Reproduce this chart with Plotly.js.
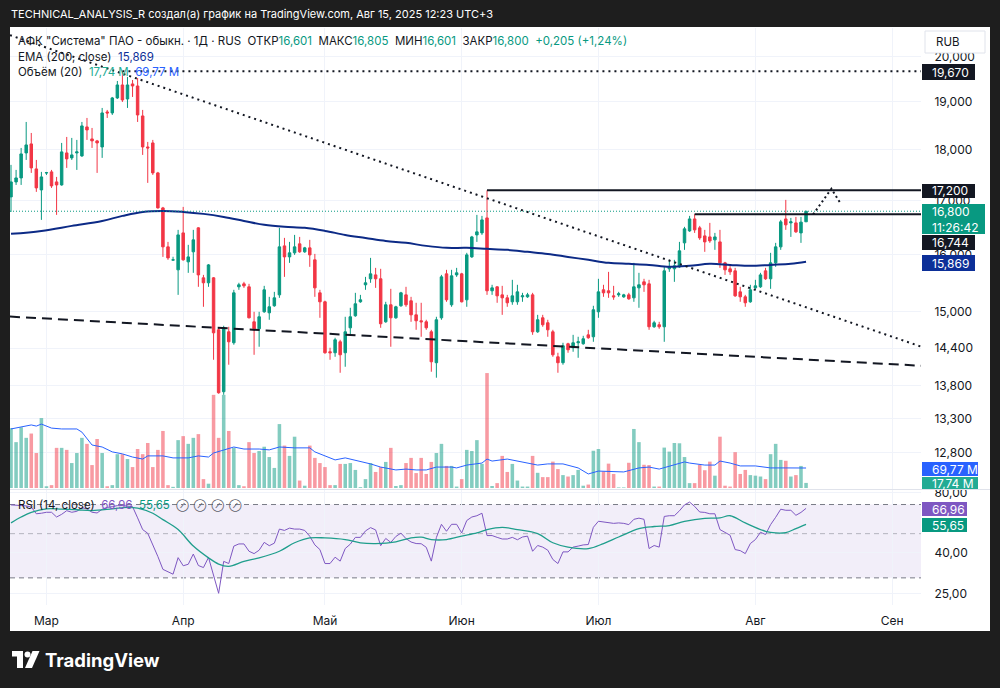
<!DOCTYPE html>
<html><head><meta charset="utf-8">
<script src="https://cdn.plot.ly/plotly-3.0.1.min.js"></script>
<style>html,body{margin:0;padding:0;background:#1e1e1e;}#chart{width:1000px;height:688px;}</style>
</head><body><div id="chart"></div>
<script>
// ---------- DATA (prices in RUB, volume in millions) ----------
const openP = [17.073,17.364,17.442,17.940,18.123,17.620,17.208,17.540,17.561,17.364,
17.305,17.940,17.840,17.940,17.880,18.473,18.225,18.185,18.061,18.787,
18.766,19.086,19.367,19.064,19.389,19.345,18.703,18.061,18.143,17.541,
16.863,16.139,15.900,15.727,16.395,15.869,16.049,16.488,15.586,15.499,
15.586,14.700,13.710,14.667,14.487,15.429,15.481,15.429,14.833,14.717,
15.001,14.984,15.103,15.290,16.157,15.958,16.031,16.194,16.049,16.121,
15.905,15.325,15.171,14.341,14.325,14.503,14.325,14.733,14.934,15.171,
15.464,15.569,15.638,15.569,14.833,15.120,14.900,15.103,15.290,15.188,
14.950,14.850,14.833,14.667,14.165,14.900,15.656,15.120,15.638,15.656,
15.205,15.958,16.358,16.395,16.674,15.360,15.429,15.290,15.239,15.171,
15.171,15.256,15.256,15.290,14.667,14.900,14.817,14.667,14.260,14.165,
14.471,14.406,14.487,14.471,14.617,14.585,15.001,15.377,15.360,15.273,
15.290,15.256,15.290,15.239,15.411,15.516,15.481,14.750,14.784,14.750,
15.745,15.745,15.780,16.212,16.432,16.655,16.488,16.340,16.321,16.267,
16.230,15.851,15.745,15.709,15.342,15.256,15.171,15.411,15.429,15.709,
15.569,15.851,16.139,16.655,16.581,16.581,16.395,16.601];
const highP = [17.700,17.600,18.041,18.577,18.348,17.799,17.561,17.560,17.600,17.462,
18.143,18.266,18.246,18.205,18.577,18.661,18.452,18.205,18.872,18.830,
19.107,19.454,19.670,19.542,19.476,19.520,18.830,18.164,18.205,17.561,
16.882,16.230,15.960,16.451,16.882,16.176,16.451,16.500,15.638,15.830,
15.600,14.733,14.767,14.750,15.377,15.499,15.516,15.481,15.001,15.001,
15.446,15.256,15.342,16.488,16.303,16.230,16.358,16.321,16.139,16.267,
16.012,15.377,15.190,14.406,14.569,14.536,14.917,15.069,15.325,15.290,
15.603,15.940,15.762,15.745,15.171,15.394,15.103,15.342,15.429,15.256,
15.154,15.154,14.867,14.700,14.917,15.638,15.727,15.727,15.762,15.674,
16.031,16.340,16.731,16.712,17.200,15.464,15.440,15.446,15.290,15.551,
15.464,15.325,15.325,15.325,14.950,14.950,14.867,14.700,14.325,14.487,
14.487,14.617,14.585,14.601,14.700,15.103,15.569,15.464,15.691,15.446,
15.342,15.308,15.325,15.851,15.674,15.569,15.551,14.850,14.833,15.780,
15.905,15.905,16.230,16.507,16.712,16.744,16.525,16.451,16.581,16.395,
16.451,15.869,15.798,15.762,15.429,15.290,15.464,15.551,15.674,15.762,
16.031,16.212,16.637,17.016,16.674,16.693,16.693,16.805];
const lowP = [16.787,17.305,17.305,17.799,17.541,17.170,16.637,17.500,17.247,16.731,
17.290,17.640,17.799,17.600,17.860,18.205,18.041,17.541,17.840,18.661,
18.724,19.064,19.000,18.872,19.107,18.577,17.900,17.345,17.501,16.850,
15.958,15.905,15.890,15.290,15.890,15.674,15.674,15.429,15.086,15.429,
14.212,13.679,13.663,14.133,14.455,15.377,15.411,14.890,14.292,14.422,
14.984,14.867,15.086,15.239,15.603,15.851,15.994,16.031,16.031,15.780,
15.256,14.900,14.309,14.212,14.260,14.006,14.101,14.617,14.917,15.154,
15.377,15.499,15.411,14.733,14.817,14.422,14.884,15.086,15.086,14.833,
14.700,14.585,14.700,14.022,13.928,14.867,15.171,15.086,15.603,15.160,
15.086,15.940,16.230,16.358,15.290,15.290,15.154,14.950,15.086,15.120,
15.120,15.171,15.239,14.617,14.650,14.750,14.585,14.260,14.006,14.133,
14.325,14.341,14.244,14.455,14.552,14.503,14.900,15.256,15.239,15.205,
15.256,15.239,15.205,15.171,15.069,15.342,14.700,14.733,14.717,14.503,
15.691,15.516,15.762,16.085,16.414,16.395,16.267,16.049,16.212,16.085,
15.762,15.638,15.638,15.256,15.171,15.086,15.154,15.377,15.411,15.551,
15.394,15.780,16.085,16.451,16.321,16.395,16.212,16.601];
const closeP = [17.364,17.442,17.920,18.102,17.640,17.247,17.462,17.545,17.286,17.305,
17.961,17.820,17.900,17.961,18.494,18.411,18.185,18.143,18.766,18.766,
19.086,19.367,19.043,19.367,19.345,18.724,18.061,18.041,17.541,16.863,
16.139,15.940,15.905,16.358,15.905,15.958,16.267,15.638,15.499,15.815,
14.650,13.694,14.733,14.503,15.325,15.464,15.446,14.900,14.717,14.917,
15.377,15.086,15.239,16.139,15.958,16.031,16.139,16.049,16.121,15.994,
15.411,15.171,14.325,14.325,14.536,14.292,14.667,14.917,15.137,15.205,
15.499,15.656,15.569,14.800,15.120,14.900,15.086,15.325,15.120,14.950,
14.850,14.833,14.733,14.180,14.867,15.603,15.205,15.621,15.674,15.171,
15.994,16.321,16.414,16.637,15.360,15.411,15.273,15.239,15.154,15.273,
15.342,15.273,15.290,14.667,14.867,14.784,14.700,14.292,14.165,14.438,
14.373,14.487,14.503,14.552,14.569,15.035,15.342,15.325,15.325,15.256,
15.308,15.290,15.222,15.429,15.464,15.464,14.750,14.817,14.750,15.709,
15.780,15.798,16.067,16.470,16.655,16.451,16.303,16.230,16.248,16.321,
15.851,15.727,15.691,15.273,15.256,15.154,15.377,15.446,15.638,15.569,
15.851,16.139,16.600,16.544,16.600,16.414,16.595,16.800];
const volumeM = [209,160,212,175,190,122,244,6,10,140,
140,133,87,122,175,154,80,171,122,6,
10,118,118,101,73,136,118,157,73,133,
199,10,4,167,181,154,175,188,31,15,
325,175,325,199,140,10,6,160,122,129,
144,108,70,223,148,112,179,26,8,148,
105,87,73,10,10,84,84,87,63,3,
31,87,56,73,91,140,7,10,87,105,
52,105,49,91,122,154,77,77,5,31,
133,129,167,84,401,7,17,112,56,84,
26,5,5,112,53,38,38,92,66,45,
40,45,63,8,12,130,136,58,85,49,
2,2,88,206,160,81,80,5,5,141,
127,157,156,108,17,17,81,62,92,43,
179,8,5,125,49,63,45,43,40,31,
118,154,98,95,40,45,77,17.74];
// EMA(200) read at selected bars
const emaIdx = [0,6,12,18,22,26,30,34,38,42,46,50,54,58,62,66,70,74,78,82,86,90,94,98,102,106,110,114,118,122,126,130,134,138,142,146,150,154,157];
const emaVal = [16.377,16.432,16.525,16.618,16.712,16.787,16.806,16.787,16.750,16.693,16.618,16.544,16.507,16.488,16.432,16.358,16.303,16.248,16.212,16.157,16.121,16.121,16.103,16.085,16.049,16.012,15.958,15.905,15.851,15.833,15.815,15.780,15.798,15.833,15.815,15.798,15.815,15.833,15.869];
// Volume MA(20)
const volMaIdx = [0,2,4,5,6,8,10,13,14,16,18,20,22,24,26,27,30,32,35,37,39,40,42,44,46,49,51,53,56,59,60,64,66,69,71,73,76,78,80,82,84,87,88,90,93,94,95,98,100,102,104,106,109,112,114,116,119,121,124,126,128,130,133,134,137,139,140,142,144,147,150,153,156,157];
const volMaVal = [206,213,220,216,223,209,206,206,195,150,143,126,119,108,101,112,112,105,105,112,108,122,133,143,136,136,133,143,140,140,126,98,105,94,84,73,63,66,63,63,73,73,70,80,87,101,94,101,94,89,80,84,84,70,49,59,56,56,70,73,66,77,91,87,80,80,94,87,77,77,70,70,70,69.77];
// RSI(14) per bar
const rsiVal = [69.7,69.5,69.0,68.9,68.0,62.9,63.3,64.0,64.0,60.6,
62.5,65.2,64.0,64.7,67.5,66.5,64.0,63.5,66.3,67.7,
68.3,69.1,69.1,68.9,68.3,60.0,52.4,50.2,44.1,38.4,
33.1,32.1,31.3,37.9,34.5,35.1,39.5,34.6,33.8,38.0,
30.5,25.1,36.3,35.4,43.3,44.4,44.4,40.8,39.7,41.3,
45.2,43.5,44.8,52.7,51.9,53.3,52.7,52.7,51.9,48.5,
43.9,41.6,35.4,35.4,38.1,36.4,42.1,44.3,47.9,47.9,
51.6,53.6,52.2,43.5,47.3,45.2,48.4,50.3,47.2,45.4,
44.6,44.5,42.7,36.4,47.8,55.7,51.4,55.7,55.7,50.4,
58.2,60.6,61.5,63.3,48.9,48.9,47.9,47.0,47.0,47.9,
46.6,48.1,48.6,40.8,43.6,42.8,41.3,37.1,35.4,40.5,
40.5,42.8,43.3,43.9,44.1,53.8,57.7,57.2,57.2,56.3,
56.6,56.3,55.5,59.0,59.8,59.0,42.1,43.6,42.8,61.0,
61.5,61.5,65.1,69.7,72.0,68.5,64.2,63.9,62.9,62.9,
52.4,50.6,49.1,41.6,41.1,39.7,44.6,46.7,50.8,49.5,
55.5,60.4,66.3,65.5,65.5,61.8,63.9,66.96];
// RSI-based MA(14) read at selected bars
const rsiMaIdx = [0,2,4,7,10,13,16,20,23,25,28,30,33,36,39,41,43,46,49,53,56,59,62,66,69,72,76,79,81,83,86,89,92,94,97,100,104,107,110,114,117,120,124,127,130,133,137,140,142,145,149,151,153,155,157];
const rsiMaVal = [56.6,60.6,63.9,66.6,66.4,65.9,65.3,66.6,67.8,67.1,63.3,58.8,52.4,43.3,37.8,35.2,34.3,36.3,37.8,40.8,45.0,47.6,47.6,46.7,45.0,44.6,45.5,47.6,48.0,46.7,46.7,48.6,50.4,52.4,53.8,52.4,50.0,45.0,42.8,42.1,44.6,48.1,53.0,54.3,54.9,57.6,59.7,60.0,61.5,56.6,51.4,50.4,50.6,53.0,55.65];
// time axis
const monthIdx = [7,34,62,89,116,147,174];
const monthLabels = ['Мар','Апр','Май','Июн','Июл','Авг','Сен'];
const priceTicks = [20,19,18,17,16,15,14.4,13.8,13.3,12.8];
const rsiTicks = [80,40,25];
// drawings (bar index, price)
const downTrendIdx = [-0.2,179.7], downTrendPrice = [20.484,14.425];
const supportIdx = [-0.2,179.7], supportPrice = [14.920,14.117];
const level19670Idx = [22,179.7], level19670 = 19.670;
const level17200Idx = [94,179.7], level17200 = 17.200;
const level16744Idx = [135,179.7], level16744 = 16.744;
const pathIdx = [158.4,162.0,163.8], pathPrice = [16.740,17.230,16.950];
const countdown = '11:26:42';

// ---------- helpers ----------
const FONT = 'Inter, "Noto Sans", sans-serif';
const M = {l:10, r:79, t:28, b:83};
const PW = 1000 - M.l - M.r, PH = 688 - M.t - M.b;
const PX = px => (px - M.l) / PW;
const PY = py => (688 - M.b - py) / PH;
const fmt = (v, d) => v.toFixed(d).replace('.', ',');
const n = closeP.length, last = n - 1;
const barIdx = closeP.map((_, i) => i);
const xEnd = 179.7, xStart = -0.2;
const TEAL = '#089981', RED = '#F23645', INK = '#131722';

const volColors = closeP.map((c, i) => c >= openP[i] ? 'rgba(8,153,129,0.5)' : 'rgba(242,54,69,0.5)');

const traces = [
  {type:'bar', x:barIdx, y:volumeM, xaxis:'x', yaxis:'y', width:0.7, marker:{color:volColors, line:{width:0}}, hoverinfo:'skip'},
  {type:'scatter', mode:'lines', x:volMaIdx, y:volMaVal, xaxis:'x', yaxis:'y', line:{color:'#2962FF', width:1}, hoverinfo:'skip'},
  {type:'candlestick', x:barIdx, open:openP, high:highP, low:lowP, close:closeP, xaxis:'x', yaxis:'y2',
   increasing:{line:{color:TEAL, width:1}, fillcolor:TEAL}, decreasing:{line:{color:RED, width:1}, fillcolor:RED},
   whiskerwidth:0, hoverinfo:'skip'},
  {type:'scatter', mode:'lines', x:emaIdx, y:emaVal, xaxis:'x', yaxis:'y2', line:{color:'#0c2a86', width:2, shape:'spline'}, hoverinfo:'skip'},
  {type:'scatter', mode:'lines', x:[xStart, xEnd], y:[closeP[last], closeP[last]], xaxis:'x', yaxis:'y2', line:{color:TEAL, width:1, dash:'1px,2px'}, hoverinfo:'skip'},
  {type:'scatter', mode:'lines', x:downTrendIdx, y:downTrendPrice, xaxis:'x', yaxis:'y2', line:{color:INK, width:2, dash:'2px,4px'}, hoverinfo:'skip'},
  {type:'scatter', mode:'lines', x:supportIdx, y:supportPrice, xaxis:'x', yaxis:'y2', line:{color:INK, width:2, dash:'10px,6px'}, hoverinfo:'skip'},
  {type:'scatter', mode:'lines', x:level19670Idx, y:[level19670, level19670], xaxis:'x', yaxis:'y2', line:{color:INK, width:2, dash:'2px,4px'}, hoverinfo:'skip'},
  {type:'scatter', mode:'lines', x:level17200Idx, y:[level17200, level17200], xaxis:'x', yaxis:'y2', line:{color:INK, width:2}, hoverinfo:'skip'},
  {type:'scatter', mode:'lines', x:level16744Idx, y:[level16744, level16744], xaxis:'x', yaxis:'y2', line:{color:INK, width:2}, hoverinfo:'skip'},
  {type:'scatter', mode:'lines', x:pathIdx, y:pathPrice, xaxis:'x', yaxis:'y2', line:{color:INK, width:2, dash:'2px,3px'}, hoverinfo:'skip'},
  {type:'scatter', mode:'lines', x:barIdx, y:rsiVal, xaxis:'x', yaxis:'y3', line:{color:'#7E57C2', width:1}, hoverinfo:'skip'},
  {type:'scatter', mode:'lines', x:rsiMaIdx, y:rsiMaVal, xaxis:'x', yaxis:'y3', line:{color:'#1f9e8c', width:1.3, shape:'spline'}, hoverinfo:'skip'}
];

function rectPx(x0, y0, x1, y1, color, layer, line) {
  return {type:'rect', xref:'paper', yref:'paper', x0:PX(x0), x1:PX(x1), y0:PY(y1), y1:PY(y0),
          fillcolor:color, line: line || {width:0}, layer: layer || 'above'};
}
const shapes = [
  rectPx(10, 27, 990, 631, '#ffffff', 'below'),
  {type:'rect', xref:'paper', yref:'y3', x0:0, x1:1, y0:30, y1:70, fillcolor:'rgba(126,87,194,0.10)', line:{width:0}, layer:'below'},
  {type:'line', xref:'paper', yref:'y3', x0:0, x1:1, y0:70, y1:70, line:{color:'#787B86', width:1, dash:'5px,4px'}, layer:'below'},
  {type:'line', xref:'paper', yref:'y3', x0:0, x1:1, y0:50, y1:50, line:{color:'rgba(120,123,134,0.5)', width:1, dash:'5px,4px'}, layer:'below'},
  {type:'line', xref:'paper', yref:'y3', x0:0, x1:1, y0:30, y1:30, line:{color:'#787B86', width:1, dash:'5px,4px'}, layer:'below'},
  {type:'line', xref:'paper', yref:'paper', x0:0, x1:PX(990), y0:PY(489.5), y1:PY(489.5), line:{color:'#e0e3eb', width:1}, layer:'above'},
  // scale boxes
  rectPx(925, 31, 985, 53, '#ffffff', 'above', {color:'#e0e3eb', width:1}),
  rectPx(922, 64, 975, 80, INK),
  rectPx(922, 184, 975, 198, INK),
  rectPx(922, 204, 985, 234, TEAL),
  rectPx(922, 235, 975, 250, INK),
  rectPx(922, 255, 975, 271, '#0c2f98'),
  rectPx(922, 462, 978, 476, '#2962FF'),
  rectPx(922, 477, 978, 489, '#22AB94'),
  rectPx(922, 502, 967, 516, '#7E57C2'),
  rectPx(922, 518, 967, 532, TEAL),
  // logo icon
  {type:'path', xref:'paper', yref:'paper', layer:'above', fillcolor:'#ffffff', line:{width:0},
   path:`M${PX(12)},${PY(651)} L${PX(23)},${PY(651)} L${PX(23)},${PY(668)} L${PX(17)},${PY(668)} L${PX(17)},${PY(656.5)} L${PX(12)},${PY(656.5)} Z`},
  {type:'circle', xref:'paper', yref:'paper', layer:'above', fillcolor:'#ffffff', line:{width:0},
   x0:PX(24.5), x1:PX(30.5), y0:PY(657.5), y1:PY(651.5)},
  {type:'path', xref:'paper', yref:'paper', layer:'above', fillcolor:'#ffffff', line:{width:0},
   path:`M${PX(32.5)},${PY(651)} L${PX(39.5)},${PY(651)} L${PX(32)},${PY(668)} L${PX(25)},${PY(668)} Z`}
];

function txt(text, px, py, opts) {
  return Object.assign({xref:'paper', yref:'paper', x:PX(px), y:PY(py), xanchor:'left', yanchor:'middle',
    text, showarrow:false, font:{family:FONT, size:12, color:INK}, align:'left'}, opts || {});
}
const sp = '\u00a0';
const span = (c, t) => `<span style="color:${c}">${t}</span>`;
const chg = closeP[last] - closeP[last - 1];
const chgPct = chg / closeP[last - 1] * 100;
const line1 = `АФК "Система" ПАО - обыкн. · 1Д · RUS${sp}${sp}ОТКР${span(TEAL, fmt(openP[last],3))}${sp}${sp}МАКС${span(TEAL, fmt(highP[last],3))}${sp}${sp}МИН${span(TEAL, fmt(lowP[last],3))}${sp}${sp}ЗАКР${span(TEAL, fmt(closeP[last],3))}${sp}${sp}${span(TEAL, '+' + fmt(chg,3) + ' (+' + fmt(chgPct,2) + '%)')}`;
const line2 = `EMA (200, close)${sp}${sp}${span('#0c2f98', fmt(emaVal[emaVal.length-1],3))}`;
const line3 = `Объём (20)${sp}${sp}${span('#22AB94', fmt(volumeM[last],2) + ' M')}${sp}${sp}${span('#2962FF', fmt(volMaVal[volMaVal.length-1],2) + ' M')}`;
const line4 = `RSI (14, close)${sp}${sp}${span('#7E57C2', fmt(rsiVal[last],2))}${sp}${sp}${span(TEAL, fmt(rsiMaVal[rsiMaVal.length-1],2))}${sp}${sp}<span style="color:#5d606b;font-size:9px">⊘${sp}${sp}⊘${sp}${sp}⊘${sp}${sp}⊘</span>`;
const W = {family:FONT, size:12, color:'#ffffff'};
const annotations = [
  txt('TECHNICAL_ANALYSIS_R создал(а) график на TradingView.com, Авг 15, 2025 12:23 UTC+3', 9, 14, {font:{family:FONT, size:11, color:'#ffffff'}}),
  txt(line1, 16, 41, {font:{family:FONT, size:11.5, color:INK}}),
  txt(line2, 16, 57, {font:{family:FONT, size:11.5, color:INK}}),
  txt(line3, 16, 72, {font:{family:FONT, size:11.5, color:INK}}),
  txt(line4, 16, 505, {font:{family:FONT, size:11.5, color:INK}}),
  txt('RUB', 934, 41.5, {font:{family:FONT, size:11.5, color:INK}}),
  txt(fmt(level19670,3), 930, 72, {font:W}),
  txt(fmt(level17200,3), 930, 191, {font:W}),
  txt(fmt(closeP[last],3) + '<br>' + countdown, 930, 219, {font:W}),
  txt(fmt(level16744,3), 930, 242.5, {font:W}),
  txt(fmt(emaVal[emaVal.length-1],3), 930, 263, {font:W}),
  txt(fmt(volMaVal[volMaVal.length-1],2) + ' M', 930, 469, {font:W}),
  txt(fmt(volumeM[last],2) + ' M', 930, 483.5, {font:W}),
  txt(fmt(rsiVal[last],2), 930, 509, {font:W}),
  txt(fmt(rsiMaVal[rsiMaVal.length-1],2), 930, 525, {font:W}),
  txt('<b>TradingView</b>', 43, 660, {font:{family:FONT, size:18.5, color:'#ffffff'}})
];

const layout = {
  width:1000, height:688, margin:{l:M.l, r:M.r, t:M.t, b:M.b, pad:0},
  paper_bgcolor:'#1e1e1e', plot_bgcolor:'rgba(0,0,0,0)', showlegend:false,
  separators:',.', font:{family:FONT, size:12, color:INK},
  boxgap:0.3, bargap:0.3, hovermode:false,
  xaxis:{range:[xStart, xEnd], anchor:'y3', tickvals:monthIdx, ticktext:monthLabels,
         showgrid:true, gridcolor:'#f0f3fa', zeroline:false, showline:false,
         ticks:'outside', ticklen:5, tickcolor:'rgba(0,0,0,0)', rangeslider:{visible:false},
         tickfont:{family:FONT, size:12, color:INK}, fixedrange:true},
  yaxis:{domain:[PY(489), 1], range:[-3.5, 1605], visible:false, fixedrange:true},
  yaxis2:{overlaying:'y', type:'log', range:[Math.log10(12.2874), Math.log10(20.650)], side:'right', anchor:'x',
          tickvals:priceTicks, tickformat:'.3f', showgrid:true, gridcolor:'#f0f3fa', zeroline:false,
          ticks:'outside', ticklen:10, tickcolor:'rgba(0,0,0,0)', tickfont:{family:FONT, size:12, color:INK}, fixedrange:true},
  yaxis3:{domain:[0, PY(490)], type:'log', range:[Math.log10(21.93), Math.log10(82.78)], side:'right', anchor:'x',
          tickvals:rsiTicks, tickformat:'.2f', showgrid:true, gridcolor:'#f0f3fa', zeroline:false,
          ticks:'outside', ticklen:10, tickcolor:'rgba(0,0,0,0)', tickfont:{family:FONT, size:12, color:INK}, fixedrange:true},
  shapes, annotations
};
Plotly.newPlot('chart', traces, layout, {staticPlot:true, displayModeBar:false});
</script></body></html>
